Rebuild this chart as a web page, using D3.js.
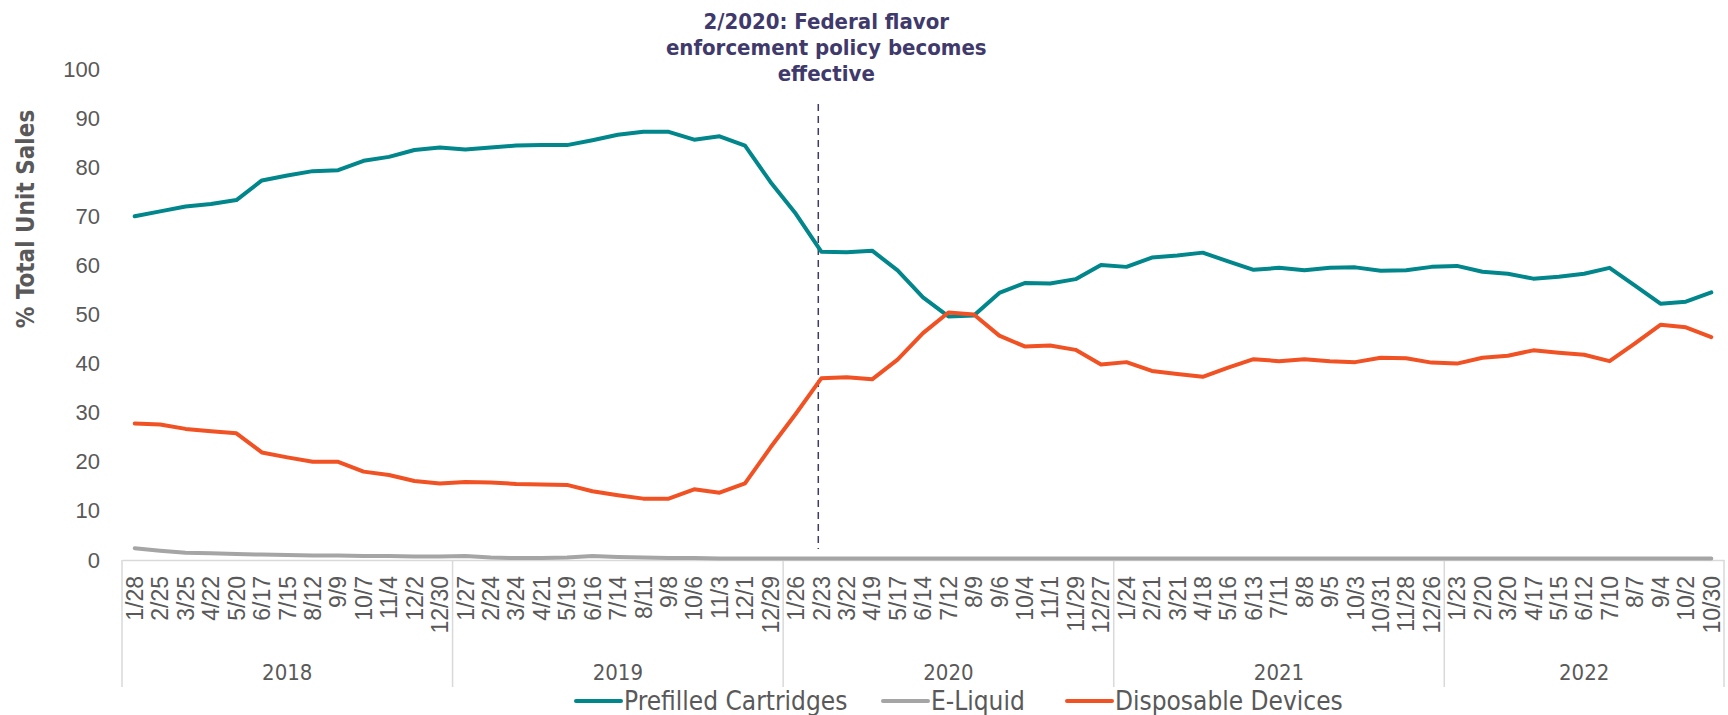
<!DOCTYPE html>
<html>
<head>
<meta charset="utf-8">
<script src="https://cdn.jsdelivr.net/npm/d3@7"></script>
<style>
  body { margin: 0; background: #fff; }
  svg { display: block; font-family: "DejaVu Sans Condensed", "DejaVu Sans", sans-serif; font-stretch: condensed; }
</style>
</head>
<body>
<svg id="chart" width="1728" height="715"></svg>
<script>
// week-ending dates, grouped by year
const years = ["2018", "2019", "2020", "2021", "2022"];
const weeks = [
  ["1/28", "2/25", "3/25", "4/22", "5/20", "6/17", "7/15", "8/12", "9/9", "10/7", "11/4", "12/2", "12/30"],
  ["1/27", "2/24", "3/24", "4/21", "5/19", "6/16", "7/14", "8/11", "9/8", "10/6", "11/3", "12/1", "12/29"],
  ["1/26", "2/23", "3/22", "4/19", "5/17", "6/14", "7/12", "8/9", "9/6", "10/4", "11/1", "11/29", "12/27"],
  ["1/24", "2/21", "3/21", "4/18", "5/16", "6/13", "7/11", "8/8", "9/5", "10/3", "10/31", "11/28", "12/26"],
  ["1/23", "2/20", "3/20", "4/17", "5/15", "6/12", "7/10", "8/7", "9/4", "10/2", "10/30"]
];

const prefilled = [
  70.0, 71.0, 72.0, 72.5, 73.3, 77.3, 78.3, 79.2, 79.4, 81.3, 82.1, 83.5, 84.0,
  83.6, 84.0, 84.4, 84.5, 84.5, 85.5, 86.6, 87.2, 87.2, 85.6, 86.3, 84.4, 77.0,
  70.5, 62.8, 62.7, 63.0, 59.0, 53.5, 49.6, 49.8, 54.4, 56.4, 56.3, 57.2, 60.1,
  59.7, 61.6, 62.0, 62.6, 60.8, 59.1, 59.5, 59.0, 59.5, 59.6, 58.9, 59.0, 59.7,
  59.9, 58.7, 58.3, 57.3, 57.7, 58.3, 59.5, 55.9, 52.2, 52.6, 54.5
];
const eLiquid = [
  2.4, 1.9, 1.5, 1.4, 1.2, 1.1, 1.0, 0.9, 0.9, 0.8, 0.8, 0.7, 0.7,
  0.8, 0.5, 0.4, 0.4, 0.5, 0.8, 0.6, 0.5, 0.4, 0.4, 0.3, 0.3, 0.3,
  0.3, 0.3, 0.3, 0.3, 0.3, 0.3, 0.3, 0.3, 0.3, 0.3, 0.3, 0.3, 0.3,
  0.3, 0.3, 0.3, 0.3, 0.3, 0.3, 0.3, 0.3, 0.3, 0.3, 0.3, 0.3, 0.3,
  0.3, 0.3, 0.3, 0.3, 0.3, 0.3, 0.3, 0.3, 0.3, 0.3, 0.3
];
const disposable = [
  27.8, 27.6, 26.7, 26.2, 25.8, 21.9, 20.9, 20.0, 20.0, 18.0, 17.3, 16.1, 15.6,
  15.9, 15.8, 15.5, 15.4, 15.3, 14.0, 13.2, 12.5, 12.5, 14.4, 13.7, 15.6, 22.9,
  29.8, 37.0, 37.2, 36.8, 40.8, 46.2, 50.4, 50.0, 45.7, 43.5, 43.7, 42.8, 39.8,
  40.3, 38.5, 37.9, 37.3, 39.2, 40.9, 40.5, 40.9, 40.5, 40.3, 41.2, 41.1, 40.2,
  40.0, 41.2, 41.6, 42.7, 42.2, 41.8, 40.5, 44.1, 47.9, 47.4, 45.4
];
const yTicks = [0, 10, 20, 30, 40, 50, 60, 70, 80, 90, 100];

const policyWeek = "2/23"; // in 2020
const noteLines = ["2/2020: Federal flavor", "enforcement policy becomes", "effective"];

const series = [
  { name: "Prefilled Cartridges", values: prefilled, color: "#00868b" },
  { name: "E-Liquid", values: eLiquid, color: "#a5a5a5" },
  { name: "Disposable Devices", values: disposable, color: "#f05224" }
];

// flatten categories
const cats = [];
weeks.forEach((list, yi) => list.forEach((w) => cats.push({ year: years[yi], week: w })));
const idx = cats.map((d, i) => i);

const svg = d3.select("#chart");
const plotLeft = 122, plotRight = 1724, plotTop = 69, plotBottom = 560;
const textColor = "#595959";
const gridColor = "#d9d9d9";
const noteColor = "#3f3a6b";

const x = d3.scaleBand().domain(idx).range([plotLeft, plotRight]).padding(0);
const y = d3.scaleLinear().domain([0, 100]).range([plotBottom, plotTop]);
const cx = (i) => x(i) + x.bandwidth() / 2;

// y axis
const yAxis = svg.append("g")
  .attr("transform", `translate(${plotLeft - 13},0)`)
  .call(d3.axisLeft(y).tickValues(yTicks).tickSize(0).tickPadding(9));
yAxis.select(".domain").remove();
yAxis.selectAll("text")
  .attr("fill", textColor)
  .style("font-size", "22px")
  .style("font-family", "inherit");

svg.append("text")
  .attr("transform", `translate(34,219) rotate(-90)`)
  .attr("text-anchor", "middle")
  .attr("fill", textColor)
  .style("font-size", "24px")
  .style("font-weight", "bold")
  .text("% Total Unit Sales");

// x axis with week labels
const xAxis = svg.append("g")
  .attr("transform", `translate(0,${plotBottom})`)
  .call(d3.axisBottom(x).tickSize(0).tickFormat((i) => cats[i].week));
xAxis.select(".domain").attr("stroke", gridColor).attr("stroke-width", 1.5);
xAxis.selectAll("text")
  .attr("fill", textColor)
  .style("font-size", "23px")
  .style("font-family", "inherit")
  .attr("transform", "rotate(-90)")
  .attr("x", -16)
  .attr("y", 0)
  .attr("dy", "0.36em")
  .style("text-anchor", "end");

// year groups
let start = 0;
const yearGroups = weeks.map((list, yi) => {
  const g = { year: years[yi], first: start, last: start + list.length - 1 };
  start += list.length;
  return g;
});
const bounds = yearGroups.map((g) => x(g.first)).concat([plotRight]);
svg.append("g")
  .selectAll("line")
  .data(bounds)
  .join("line")
  .attr("x1", (d) => d)
  .attr("x2", (d) => d)
  .attr("y1", plotBottom)
  .attr("y2", 687)
  .attr("stroke", gridColor)
  .attr("stroke-width", 1.5);

svg.append("g")
  .selectAll("text")
  .data(yearGroups)
  .join("text")
  .attr("x", (d) => (x(d.first) + x(d.last) + x.bandwidth()) / 2)
  .attr("y", 680)
  .attr("text-anchor", "middle")
  .attr("fill", textColor)
  .style("font-size", "22px")
  .text((d) => d.year);

// policy marker
const pi = cats.findIndex((d) => d.year === "2020" && d.week === policyWeek);
svg.append("line")
  .attr("x1", cx(pi) - 3)
  .attr("x2", cx(pi) - 3)
  .attr("y1", 104)
  .attr("y2", 549)
  .attr("stroke", noteColor)
  .attr("stroke-width", 1.5)
  .attr("stroke-dasharray", "7,5");

svg.append("g")
  .selectAll("text")
  .data(noteLines)
  .join("text")
  .attr("x", cx(pi) + 5)
  .attr("y", (d, i) => 29 + i * 26)
  .attr("text-anchor", "middle")
  .attr("fill", noteColor)
  .style("font-size", "22px")
  .style("font-weight", "bold")
  .text((d) => d);

// lines
const line = d3.line().x((d, i) => cx(i)).y((d) => y(d));
svg.append("g")
  .selectAll("path")
  .data(series)
  .join("path")
  .attr("d", (d) => line(d.values))
  .attr("fill", "none")
  .attr("stroke", (d) => d.color)
  .attr("stroke-width", 4)
  .attr("stroke-linejoin", "round")
  .attr("stroke-linecap", "round");

// legend
const legendX = [576, 883, 1067];
const legend = svg.append("g")
  .selectAll("g")
  .data(series)
  .join("g")
  .attr("transform", (d, i) => `translate(${legendX[i]},701)`);
legend.append("line")
  .attr("x1", 0)
  .attr("x2", 45)
  .attr("stroke", (d) => d.color)
  .attr("stroke-width", 4)
  .attr("stroke-linecap", "round");
legend.append("text")
  .attr("x", 48)
  .attr("dy", "0.35em")
  .attr("fill", textColor)
  .style("font-size", "26px")
  .text((d) => d.name);
</script>
</body>
</html>
